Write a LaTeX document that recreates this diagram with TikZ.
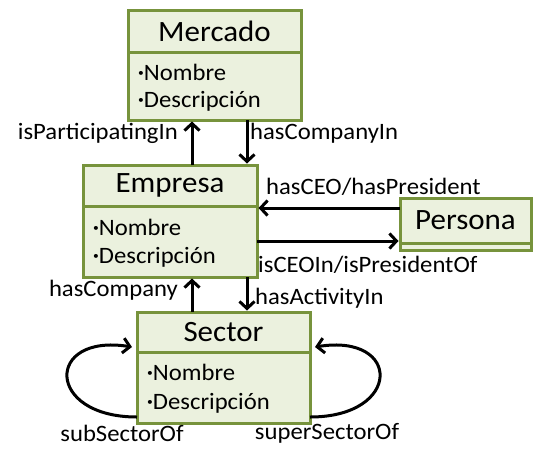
\documentclass[tikz,border=0pt]{standalone}
\usepackage{fontspec}
\setmainfont{Carlito}[FakeStretch=1.05]
\usetikzlibrary{arrows.meta}
\definecolor{boxgreen}{HTML}{77933C}
\definecolor{boxfill}{HTML}{EBF1DE}
\newcommand\mybullet{\raisebox{3.5pt}{\fontsize{11}{11}\selectfont•}}
\begin{document}
\begin{tikzpicture}[x=1pt,y=-1pt,
  sec/.style={draw=boxgreen, fill=boxfill, line width=3pt, inner sep=0pt, outer sep=0pt, anchor=north west},
  ttl/.style={sec, font=\fontsize{29.5}{31}\selectfont},
  attr/.style={anchor=west, inner sep=0pt, font=\fontsize{23.5}{25}\selectfont},
  lbl/.style={inner sep=0pt, font=\fontsize{23.5}{25}\selectfont},
  arr/.style={line width=3pt, -{Straight Barb[length=7pt,width=15pt]}, shorten >=1.5pt}
]
\useasboundingbox (0,0) rectangle (534,448);
% Mercado
\node[sec, minimum width=173pt, minimum height=68pt] (merca) at (128,52) {};
\node[ttl, minimum width=173pt, minimum height=42pt] (merc) at (128,10) {Mercado};
\node[attr] (merc1) at (138,72) {\mybullet Nombre};
\node[attr] (merc2) at (138,101) {\mybullet Descripción};
% Empresa
\node[sec, minimum width=174pt, minimum height=71pt] (empa) at (83,206) {};
\node[ttl, minimum width=174pt, minimum height=41pt] (emp) at (83,165) {Empresa};
\node[attr] (emp1) at (93,227) {\mybullet Nombre};
\node[attr] (emp2) at (93,257) {\mybullet Descripción};
% Sector
\node[sec, minimum width=173pt, minimum height=71pt] (secta) at (137,352) {};
\node[ttl, minimum width=173pt, minimum height=40pt] (sect) at (137,312) {Sector};
\node[attr] (sect1) at (147,372) {\mybullet Nombre};
\node[attr] (sect2) at (147,403) {\mybullet Descripción};
% Persona
\node[sec, minimum width=131pt, minimum height=7pt] (persa) at (400,243) {};
\node[ttl, minimum width=131pt, minimum height=45pt] (pers) at (400,198) {Persona};
% helper coordinates
\coordinate (xa) at (192,0);
\coordinate (xb) at (247,0);
\coordinate (ya) at (0,208);
\coordinate (yb) at (0,241);
% arrows
\draw[arr] (emp.north -| xa) -- (merca.south -| xa);
\draw[arr] (merca.south -| xb) -- (emp.north -| xb);
\draw[arr] (pers.west |- ya) -- (empa.east |- ya);
\draw[arr] (empa.east |- yb) -- (persa.west |- yb);
\draw[arr] (sect.north -| xa) -- (empa.south -| xa);
\draw[arr] (empa.south -| xb) -- (sect.north -| xb);
\draw[line width=3pt, -{Straight Barb[length=7pt,width=15pt]}]
  ([yshift=6pt]secta.south west) .. controls (45,417) and (45,333) .. ([xshift=-5pt,yshift=5pt]sect.south west);
\draw[line width=3pt, -{Straight Barb[length=7pt,width=15pt]}]
  ([yshift=6pt]secta.south east) .. controls (402,417) and (402,333) .. ([xshift=5pt,yshift=5pt]sect.south east);
% labels
\node[lbl, anchor=east] (l1) at (178,133) {isParticipatingIn};
\node[lbl, anchor=west] (l2) at (250,133) {hasCompanyIn};
\node[lbl, anchor=west] (l3) at (266,187) {hasCEO/hasPresident};
\node[lbl, anchor=west] (l4) at (258,265) {isCEOIn/isPresidentOf};
\node[lbl, anchor=east] (l5) at (178,290) {hasCompany};
\node[lbl, anchor=west] (l6) at (255,298) {hasActivityIn};
\node[lbl] (l7) at (122,433) {subSectorOf};
\node[lbl] (l8) at (327,433) {superSectorOf};
\end{tikzpicture}
\end{document}
